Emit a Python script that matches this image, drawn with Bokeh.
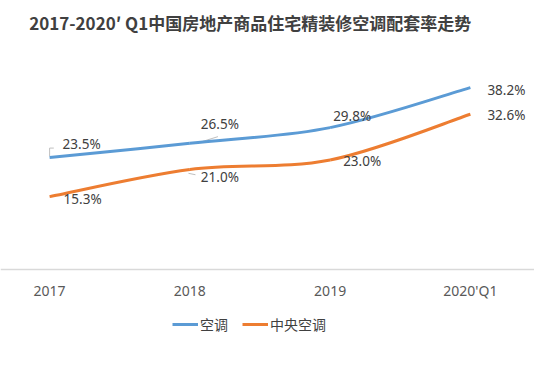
from bokeh.plotting import figure
from bokeh.models import Range1d, FixedTicker, Legend, LegendItem, Label, ColumnDataSource
from bokeh.core.properties import value
from bokeh.embed import file_html
from bokeh.resources import INLINE

categories = ["2017", "2018", "2019", "2020'Q1"]
ac_values = [23.5, 26.5, 29.8, 38.2]
central_values = [15.3, 21.0, 23.0, 32.6]
series_names = ["空调", "中央空调"]
title_text = "2017-2020′ Q1中国房地产商品住宅精装修空调配套率走势"

BLUE = "#5B9BD5"
ORANGE = "#ED7D31"
TXT = "#404040"

xs = list(range(len(categories)))

p = figure(width=534, height=354, output_backend="svg", toolbar_location=None,
           x_range=Range1d(-0.35, 3.457), y_range=Range1d(-17.86, 56.5),
           y_axis_location=None, min_border_left=0, min_border_right=0,
           min_border_top=0, min_border_bottom=0)
p.outline_line_color = None
p.xgrid.visible = False
p.ygrid.visible = False
p.background_fill_color = "white"
p.border_fill_color = "white"


def bezier_parts(x, y):
    n = len(x)
    x0, y0, x1, y1, cx0, cy0, cx1, cy1 = [], [], [], [], [], [], [], []
    for i in range(n - 1):
        xp, yp = (x[i - 1], y[i - 1]) if i > 0 else (x[i], y[i])
        xn, yn = (x[i + 2], y[i + 2]) if i + 2 < n else (x[i + 1], y[i + 1])
        x0.append(x[i]); y0.append(y[i]); x1.append(x[i + 1]); y1.append(y[i + 1])
        cx0.append(x[i] + (x[i + 1] - xp) / 6.0); cy0.append(y[i] + (y[i + 1] - yp) / 6.0)
        cx1.append(x[i + 1] - (xn - x[i]) / 6.0); cy1.append(y[i + 1] - (yn - y[i]) / 6.0)
    return dict(x0=x0, y0=y0, x1=x1, y1=y1, cx0=cx0, cy0=cy0, cx1=cx1, cy1=cy1)


# faint label leader lines (as in the source chart)
p.multi_line(xs=[[xs[0], xs[0], xs[0] + 0.03],
                 [xs[1] + 0.07, xs[1] + 0.2],
                 [xs[1] - 0.01, xs[1] + 0.04]],
             ys=[[ac_values[0] + 0.3, ac_values[0] + 2.0, ac_values[0] + 2.0],
                 [ac_values[1] + 0.2, ac_values[1] + 1.4],
                 [central_values[1] - 0.8, central_values[1] - 1.1]],
             line_color="#BFBFBF", line_width=1)

r_ac = p.bezier(source=ColumnDataSource(bezier_parts(xs, ac_values)),
                x0="x0", y0="y0", x1="x1", y1="y1", cx0="cx0", cy0="cy0", cx1="cx1", cy1="cy1",
                line_color=BLUE, line_width=3)
r_ce = p.bezier(source=ColumnDataSource(bezier_parts(xs, central_values)),
                x0="x0", y0="y0", x1="x1", y1="y1", cx0="cx0", cy0="cy0", cx1="cx1", cy1="cy1",
                line_color=ORANGE, line_width=3)

# data labels
ac_dx = [32, 30, 22, 36]
ac_dy = [-14, -19, -12, 2]
ce_dx = [33, 30, 32, 36]
ce_dy = [2, 7, 1, 1]
p.text(x=xs, y=ac_values, text=[f"{v:.1f}%" for v in ac_values],
       x_offset=ac_dx, y_offset=ac_dy, text_align="center", text_baseline="middle",
       text_font=value("Noto Sans"), text_font_size="13.5px", text_color=TXT)
p.text(x=xs, y=central_values, text=[f"{v:.1f}%" for v in central_values],
       x_offset=ce_dx, y_offset=ce_dy, text_align="center", text_baseline="middle",
       text_font=value("Noto Sans"), text_font_size="13.5px", text_color=TXT)

# title
p.add_layout(Label(x=1.43, y=51.9, text=title_text, text_align="center", text_baseline="middle",
                   text_font="Noto Sans CJK SC", text_font_style="bold", text_font_size="17px",
                   text_color=TXT))

ax = p.xaxis[0]
ax.fixed_location = 0
ax.ticker = FixedTicker(ticks=xs)
ax.major_label_overrides = {i: c for i, c in enumerate(categories)}
ax.axis_line_color = "#D9D9D9"
ax.axis_line_width = 1.5
ax.major_tick_line_color = None
ax.minor_tick_line_color = None
ax.major_label_standoff = 6
ax.major_label_text_font = "Noto Sans"
ax.major_label_text_font_size = "14px"
ax.major_label_text_color = "#595959"

legend = Legend(items=[LegendItem(label=series_names[0], renderers=[r_ac]),
                       LegendItem(label=series_names[1], renderers=[r_ce])],
                orientation="horizontal", location=(172, 20),
                label_text_font="Noto Sans CJK SC", label_text_font_size="14px",
                label_text_color=TXT, glyph_width=26, glyph_height=14,
                label_standoff=2, spacing=14, padding=2, margin=0,
                border_line_color=None, background_fill_alpha=0)
p.add_layout(legend, "center")

open("out.html", "w").write(file_html(p, INLINE))
